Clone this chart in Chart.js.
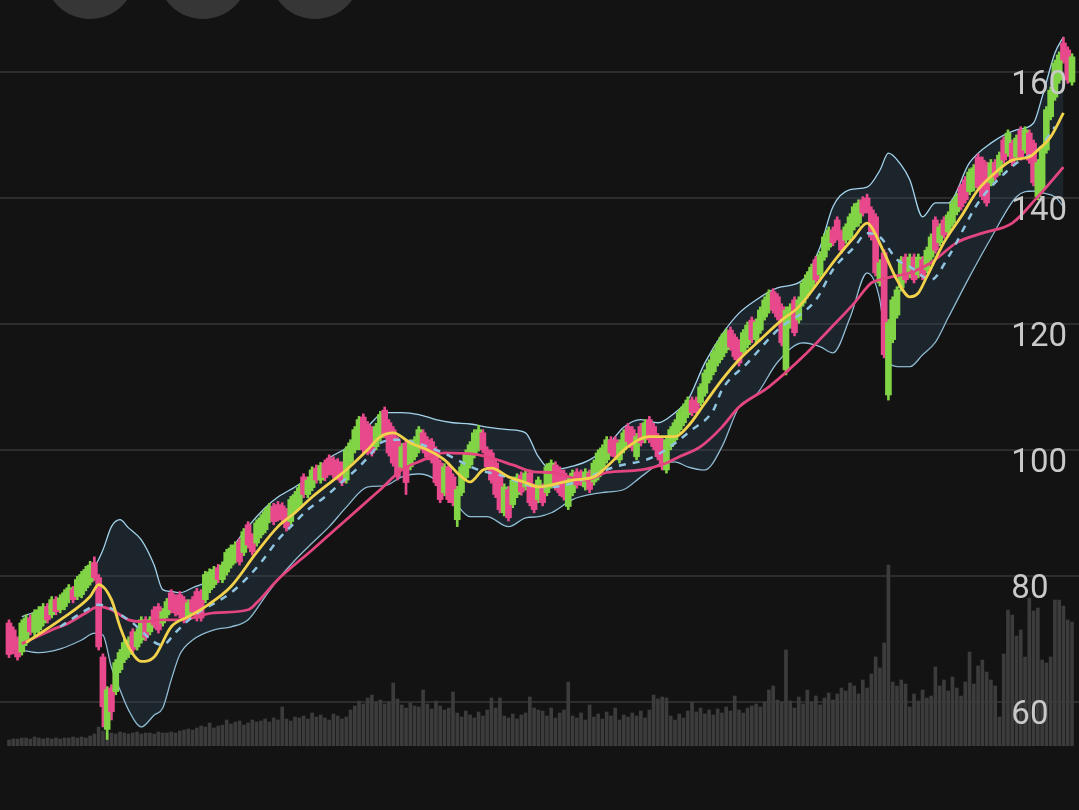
<!DOCTYPE html>
<html>
<head>
<meta charset="utf-8">
<script src="https://cdn.jsdelivr.net/npm/chart.js@4.4.1/dist/chart.umd.min.js"></script>
<style>
html,body{margin:0;padding:0;background:#131313;overflow:hidden;}
canvas{display:block;}
</style>
</head>
<body>
<canvas id="c" width="1079" height="810"></canvas>
<script>
// ---- price candles (one per session) ----
const openPrices = [
72.5,71.4,69.8,67.9,69.4,73.3,71.0,71.4,72.5,75.1,
73.8,76.2,74.6,75.1,76.2,77.8,76.7,77.0,78.1,79.0,
82.1,79.7,67.1,55.6,62.2,61.6,65.1,66.7,67.5,71.1,
68.7,69.8,73.0,71.1,74.6,75.1,72.5,73.8,77.3,76.5,
77.0,76.2,73.5,76.2,77.5,77.3,76.2,77.8,78.6,81.3,
79.4,80.6,81.7,82.5,85.4,83.7,88.1,86.2,85.2,86.5,
87.3,88.9,91.0,91.3,91.1,90.2,88.6,90.5,91.3,95.7,
92.9,94.0,97.1,95.2,97.9,98.7,98.4,98.1,97.6,95.2,
98.1,100.0,100.5,105.2,104.0,103.2,100.5,101.9,106.3,104.3,
103.2,101.6,97.3,101.1,97.3,98.9,100.0,102.7,101.6,101.3,
100.0,97.9,93.2,97.3,95.7,88.9,93.2,95.6,97.6,99.2,
100.3,102.7,100.0,99.5,97.9,96.0,90.0,93.7,91.3,92.9,
96.0,94.1,96.3,94.1,92.1,94.1,93.2,94.4,97.6,96.8,
96.3,91.0,93.2,96.5,96.3,94.1,96.3,94.9,95.7,97.3,
98.4,101.6,101.6,98.4,100.0,103.7,103.2,98.9,103.7,101.6,
104.8,103.7,102.1,101.6,96.8,100.5,101.6,103.2,104.3,105.6,
107.9,107.9,107.5,109.0,111.1,112.4,113.8,114.8,115.9,119.0,
117.9,117.0,115.6,116.7,120.6,117.5,119.0,121.1,122.2,125.1,
124.3,122.7,112.7,119.8,123.8,120.6,123.3,124.6,125.9,130.2,
127.8,130.6,132.2,134.9,136.5,134.4,133.3,133.8,135.4,136.0,
139.7,140.0,138.1,137.0,126.5,131.3,108.7,117.5,121.4,125.7,
130.6,127.8,130.6,127.8,130.2,128.6,130.6,136.5,132.9,136.5,
134.6,136.0,137.8,141.7,142.9,141.0,141.6,146.5,146.0,145.2,
142.4,145.6,144.1,149.2,147.1,148.7,146.5,150.8,147.6,150.3,
148.7,140.2,141.3,147.6,152.9,156.0,158.7,164.6,163.5,158.4
];
const highPrices = [
73.0,71.9,70.3,73.0,73.8,73.8,74.6,75.1,75.6,75.6,
76.7,76.7,77.0,77.8,78.6,78.3,79.9,80.7,81.5,82.3,
83.0,80.2,67.6,62.4,62.7,66.7,68.3,69.9,70.3,71.6,
71.6,73.5,73.5,73.5,75.1,75.6,74.8,76.4,77.8,77.0,
77.5,76.7,76.2,76.7,78.0,77.8,80.7,81.1,81.5,81.8,
82.2,84.2,84.9,85.4,85.9,87.5,88.6,86.7,88.9,89.7,
90.7,91.5,91.5,91.8,91.6,90.7,92.6,93.4,94.5,96.2,
95.7,97.3,97.6,98.0,98.4,99.2,98.9,98.6,98.1,100.5,
101.6,103.7,105.3,105.7,104.5,103.7,104.2,106.1,106.8,104.8,
103.7,102.1,101.0,101.6,101.6,102.1,103.7,103.2,102.1,101.8,
100.5,98.4,97.8,97.8,96.2,94.2,97.8,100.0,101.3,103.2,
103.9,103.2,100.5,100.0,98.4,96.5,94.6,94.2,95.7,96.2,
96.5,96.8,96.8,94.6,95.7,94.6,97.8,98.4,98.1,97.3,
96.8,95.7,96.8,97.0,96.8,97.0,96.8,98.4,100.0,100.8,
102.1,102.1,102.1,101.6,103.2,104.2,103.7,102.6,104.2,104.8,
105.3,104.2,102.6,102.1,102.1,103.7,104.8,106.4,107.3,108.4,
108.4,108.4,110.5,112.7,114.3,115.9,117.2,118.4,119.2,119.5,
118.4,117.5,119.1,120.3,121.1,120.8,122.7,124.3,125.4,125.6,
124.8,123.2,122.7,123.2,124.3,124.3,127.0,128.3,129.5,130.7,
131.5,134.3,135.4,135.4,137.0,134.9,135.9,137.5,139.1,139.7,
140.2,140.6,138.6,137.5,130.2,131.8,120.7,124.3,125.9,130.7,
131.1,131.1,131.1,131.1,130.7,132.2,134.3,137.0,135.9,137.0,
137.8,139.7,140.7,142.2,143.4,144.6,145.3,147.0,146.5,145.7,
146.1,146.1,147.3,149.7,150.8,149.2,150.0,151.3,151.3,150.8,
149.2,146.1,148.1,154.5,157.6,161.9,163.2,165.5,164.0,162.9
];
const lowPrices = [
67.0,67.6,66.6,67.4,68.9,70.6,70.5,70.9,72.0,72.5,
73.3,73.8,74.1,74.6,75.7,75.7,76.2,76.5,77.6,78.5,
79.2,68.2,56.0,54.0,57.1,61.1,64.6,66.2,67.0,67.8,
68.2,69.3,69.7,70.6,71.7,70.9,72.0,73.3,74.1,73.6,
73.3,72.5,73.0,73.8,72.8,72.8,75.7,77.3,78.1,78.9,
78.9,80.1,81.2,82.0,81.7,83.2,84.4,83.3,84.7,86.0,
86.8,88.4,88.1,88.7,88.4,87.1,88.1,90.0,90.8,92.4,
92.4,93.5,94.7,94.7,95.1,96.0,95.5,95.2,94.3,94.7,
97.6,99.5,100.0,99.5,99.2,99.0,100.0,101.4,101.9,99.0,
97.4,95.2,96.8,92.9,96.8,98.4,99.5,99.5,98.4,97.9,
94.3,91.6,92.7,91.6,91.1,87.8,92.7,95.1,97.1,98.7,
99.8,99.5,96.8,94.7,92.4,90.0,89.5,88.7,90.8,92.4,
92.8,93.6,91.1,90.0,91.6,91.1,92.7,93.9,93.6,92.7,
92.0,90.5,92.7,93.9,94.3,93.6,93.2,94.4,95.2,96.8,
97.9,99.0,98.4,97.9,99.5,100.8,99.8,98.4,100.6,101.1,
101.1,100.0,98.4,96.8,96.3,100.0,101.1,102.7,103.8,105.1,
105.4,105.8,107.0,108.5,110.6,111.9,113.3,114.3,115.4,115.8,
114.3,113.3,115.1,116.2,117.0,117.0,118.5,120.6,121.7,121.7,
120.6,116.5,111.9,119.3,118.1,120.1,122.8,124.1,125.4,126.5,
127.3,130.1,131.7,132.4,133.3,131.2,132.8,133.3,134.9,135.5,
137.1,137.6,133.3,127.6,126.0,114.6,107.9,117.0,120.9,125.2,
126.5,127.3,126.5,127.3,127.0,128.1,130.1,131.2,132.4,133.6,
134.1,135.5,137.3,138.1,139.2,140.5,141.1,141.2,139.7,138.7,
141.9,142.8,143.6,145.5,146.6,145.1,146.0,146.0,147.1,145.5,
141.9,139.7,140.8,147.1,152.4,155.5,158.2,161.4,158.2,157.9
];
const closePrices = [
67.5,68.3,67.1,72.5,73.3,71.1,74.1,74.6,75.1,73.0,
76.2,74.3,76.5,77.3,78.1,76.2,79.4,80.2,81.0,81.7,
79.7,68.7,59.2,61.9,58.4,66.2,67.8,69.4,69.8,68.3,
71.1,73.0,70.2,73.0,72.2,71.4,74.3,75.9,74.6,74.1,
73.8,73.0,75.7,74.3,73.3,73.3,80.2,80.6,81.0,79.4,
81.7,83.7,84.4,84.9,82.2,87.0,84.9,83.8,88.4,89.2,
90.2,91.0,88.6,89.2,88.9,87.6,92.1,92.9,94.0,92.9,
95.2,96.8,95.2,97.5,95.6,96.5,96.0,95.7,94.8,100.0,
101.1,103.2,104.8,100.0,99.7,99.5,103.7,105.6,102.4,99.5,
97.9,95.7,100.5,94.8,101.1,101.6,103.2,100.0,98.9,98.4,
94.8,92.1,97.3,92.1,91.6,93.7,97.3,99.5,100.8,102.7,
103.2,100.0,97.3,95.2,92.9,90.5,94.1,89.2,95.2,95.7,
93.3,96.3,91.6,90.5,95.2,91.6,97.3,97.9,94.1,93.2,
92.5,95.2,96.3,94.4,94.8,96.5,93.7,97.9,99.5,100.3,
101.6,99.5,98.9,101.1,102.7,101.3,100.3,102.1,101.1,104.3,
101.6,100.5,98.9,97.3,101.6,103.2,104.3,105.9,106.8,107.9,
105.9,106.3,110.0,112.2,113.8,115.4,116.7,117.9,118.7,116.3,
114.8,113.8,118.6,119.8,117.5,120.3,122.2,123.8,124.9,122.2,
121.1,117.0,122.2,122.7,118.6,123.8,126.5,127.8,129.0,127.0,
131.0,133.8,134.9,132.9,133.8,131.7,135.4,137.0,138.6,139.2,
137.6,138.1,133.8,128.1,129.7,115.1,120.2,123.8,125.4,130.2,
127.0,130.6,127.0,130.6,127.5,131.7,133.8,131.7,135.4,134.1,
137.3,139.2,140.2,138.6,139.7,144.1,144.8,141.7,140.2,139.2,
145.6,143.3,146.8,146.0,150.3,145.6,149.5,146.5,150.8,146.0,
142.4,145.6,147.6,154.0,157.1,161.4,162.7,161.9,158.7,162.4
];
// ---- volume per session ----
const volumes = [
6,7,7,8,8,7,9,8,7,8,7,8,7,8,8,9,8,9,8,10,
12,19,15,13,
13,12,14,13,12,13,14,12,13,13,12,14,13,13,14,13,15,
16,17,16,18,20,19,23,18,20,21,
26,22,24,25,21,23,26,24,
25,27,24,28,26,39,27,25,29,28,
30,27,33,29,31,28,26,32,30,27,29,
36,40,45,42,48,51,44,
46,42,44,63,47,41,
38,43,40,39,56,42,37,45,
40,36,38,54,
33,29,35,31,28,34,30,36,
48,38,48,
30,28,32,27,31,
33,49,38,36,
35,30,38,28,33,36,
64,
30,28,33,26,41,29,32,27,34,30,38,26,31,29,
33,30,35,28,36,51,47,49,
48,30,26,32,28,
35,44,
34,38,32,36,31,37,33,39,35,50,
36,33,38,40,42,39,44,56,60,
46,44,
96,
45,38,49,42,
56,
44,50,41,48,53,46,52,
58,55,63,
60,52,66,58,
72,89,78,
103,
181,
64,60,66,62,39,
52,45,56,48,50,
79,
60,66,55,69,58,
50,64,94,62,
80,86,74,
66,60,
29,
92,136,
131,110,116,89,
148,135,138,
86,83,89,
146,146,140,126,124
];
// ---- Bollinger bands (read at sampled sessions) ----
const bandSessions = [3,7,12,17,20,22,24,26,28,31,34,36,38,40,43,48,52,56,60,63,67,71,75,79,84,88,92,96,100,104,108,112,117,121,124,127,132,136,140,144,148,152,156,159,163,167,171,175,180,186,190,193,197,201,204,206,209,211,214,217,220,225,230,236,240,242,245,247];
const upperBand = [73.5,74.4,75.1,79.2,81.4,84.1,87.8,88.9,87.6,85.7,81.7,77.8,77.5,77.3,78.1,79.8,84.1,87.8,90.8,92.5,94.1,96.0,98.7,100.3,103.7,105.9,105.9,105.6,104.8,104.3,104.1,103.6,103.2,102.7,98.9,96.8,97.4,98.4,100.5,103.6,104.8,104.3,105.9,107.9,113.8,118.3,121.7,123.8,125.7,127.0,132.2,138.6,141.3,141.7,144.4,147.1,145.2,142.9,137.0,139.2,139.2,145.6,148.7,150.8,151.9,156.0,163.0,165.6];
const lowerBand = [68.2,67.8,68.4,69.8,70.9,70.6,65.5,61.9,58.7,56.0,57.9,59.0,63.5,67.5,69.8,71.4,71.9,73.0,76.7,79.4,82.5,85.2,87.8,90.9,94.1,94.3,95.7,96.2,95.2,92.1,89.4,89.4,87.8,89.2,89.4,90.0,92.1,92.9,93.3,93.7,95.7,97.6,98.1,97.3,96.8,100.5,106.8,108.7,113.9,117.0,116.4,115.4,121.0,128.1,123.8,113.8,113.2,113.2,115.1,117.1,121.0,127.5,133.6,140.2,141.1,140.8,140.2,138.6];
const midSessions = [12,17,21,28,36,39,43,52,56,59,63,66,70,74,78,82,85,87,91,100,110,115,124,127,142,151,160,165,167,173,180,189,193,198,201,204,208,211,216,220,227,234,237,241,245];
const midBand = [71.9,74.1,75.4,73.0,69.0,71.0,73.5,77.3,79.8,82.1,85.7,87.8,90.5,92.5,94.9,97.3,99.5,101.1,101.6,100.0,96.8,96.0,94.1,94.1,97.3,98.9,103.2,106.3,109.5,113.8,119.0,123.8,128.6,132.2,134.4,133.8,130.2,129.1,127.0,130.6,139.2,144.4,146.0,147.6,151.3];
// ---- fast average (yellow) ----
const fastSessions = [4,12,19,21,24,26,28,31,34,38,42,46,52,58,63,67,71,76,79,84,87,90,94,98,102,106,108,111,113,117,121,124,132,137,140,145,150,156,159,163,167,171,176,181,185,190,194,198,201,202,205,208,211,213,215,219,223,227,231,235,239,241,244,247];
const fastAvg = [69.4,73.0,76.7,78.6,76.2,71.9,68.7,66.4,67.1,71.9,73.5,75.1,78.3,83.7,87.8,90.0,92.5,95.2,96.8,100.0,102.1,102.7,101.1,100.0,98.4,95.7,94.9,96.8,97.1,95.7,94.8,94.1,95.2,95.7,97.3,100.5,102.1,102.1,103.7,107.4,111.1,114.3,117.5,120.6,122.7,127.0,130.6,133.8,136.0,135.4,131.3,127.0,124.3,124.9,127.5,132.9,137.0,141.3,144.0,146.0,146.5,147.6,149.7,153.5];
// ---- slow average (pink) ----
const slowSessions = [3,10,14,18,21,24,28,31,36,40,48,56,58,63,71,79,85,87,92,96,102,110,113,118,123,127,135,140,148,154,157,162,167,171,178,186,192,198,202,204,207,211,216,222,228,235,241,247];
const slowAvg = [69.2,71.4,72.5,74.1,75.1,74.6,73.0,72.7,73.0,73.0,74.1,74.6,75.7,79.4,84.1,88.9,92.5,93.7,96.8,98.1,99.5,99.2,98.7,97.6,96.5,96.4,95.2,96.4,96.8,97.9,98.9,100.5,103.6,106.8,110.0,114.8,119.0,123.3,126.5,127.0,127.5,128.1,129.7,132.9,134.4,136.0,140.2,144.9];
// ---- price axis ticks ----
const priceTicks = [60, 80, 100, 120, 140, 160];

const GREEN = '#80d445';
const PINK = '#e8498c';
const sessions = openPrices.map((_, i) => i);
const candleColors = sessions.map(i => closePrices[i] >= openPrices[i] ? GREEN : PINK);
const pts = (xs, ys) => xs.map((x, k) => ({x: x, y: ys[k]}));

const backdrop = {
  id: 'backdrop',
  beforeDraw(chart) {
    const ctx = chart.ctx;
    ctx.save();
    ctx.fillStyle = '#131313';
    ctx.fillRect(0, 0, chart.width, chart.height);
    ctx.fillStyle = '#363636';
    [90, 203, 315].forEach(cx => {
      ctx.beginPath();
      ctx.arc(cx, -26.5, 45.5, 0, Math.PI * 2);
      ctx.fill();
    });
    ctx.restore();
  }
};

new Chart(document.getElementById('c'), {
  data: {
    datasets: [
      { type: 'line', label: 'upper', data: pts(bandSessions, upperBand), borderColor: '#a3d3ec', borderWidth: 1.3,
        pointRadius: 0, cubicInterpolationMode: 'monotone', fill: '+1', backgroundColor: 'rgba(48,72,92,0.35)', order: 15 },
      { type: 'line', label: 'lower', data: pts(bandSessions, lowerBand), borderColor: '#a3d3ec', borderWidth: 1.3,
        pointRadius: 0, cubicInterpolationMode: 'monotone', fill: false, order: 15 },
      { type: 'bar', label: 'volume', yAxisID: 'yv', data: pts(sessions, volumes), backgroundColor: '#3c3c3c',
        barThickness: 3, grouped: false, order: 20 },
      { type: 'bar', label: 'wick', data: sessions.map(i => ({x: i, y: [lowPrices[i], highPrices[i]]})),
        backgroundColor: candleColors, barThickness: 2, grouped: false, order: 6 },
      { type: 'bar', label: 'body', data: sessions.map(i => ({x: i, y: [openPrices[i], closePrices[i]]})),
        backgroundColor: candleColors, barThickness: 6, grouped: false, minBarLength: 1.5, order: 5 },
      { type: 'line', label: 'slow', data: pts(slowSessions, slowAvg), borderColor: '#e2457f', borderWidth: 2.8,
        pointRadius: 0, cubicInterpolationMode: 'monotone', fill: false, order: 3 },
      { type: 'line', label: 'mid', data: pts(midSessions, midBand), borderColor: '#8fc4e0', borderWidth: 2.5,
        borderDash: [7, 7], pointRadius: 0, cubicInterpolationMode: 'monotone', fill: false, order: 2 },
      { type: 'line', label: 'fast', data: pts(fastSessions, fastAvg), borderColor: '#f2d24b', borderWidth: 2.8,
        pointRadius: 0, cubicInterpolationMode: 'monotone', fill: false, order: 1 }
    ]
  },
  options: {
    responsive: false,
    animation: false,
    events: [],
    layout: { padding: { top: 0, right: 0, bottom: 64, left: 0 } },
    plugins: { legend: { display: false }, tooltip: { enabled: false } },
    scales: {
      x: { type: 'linear', min: -2.108, max: 250.64, offset: false, display: false },
      y: {
        type: 'linear', position: 'right', min: 52.965, max: 171.43,
        afterFit(scale) { scale.paddingTop = 0; scale.paddingBottom = 0; scale.width = 0; },
        afterBuildTicks(scale) { scale.ticks = priceTicks.map(v => ({value: v})); },
        grid: { color: '#2d2d2d', lineWidth: 2, drawTicks: false, z: -1 },
        border: { display: false },
        ticks: { z: 1, mirror: true, crossAlign: 'far', padding: -12, labelOffset: 14, color: '#c9c9c9',
                 font: { family: 'Roboto', size: 33 } }
      },
      yv: { type: 'linear', display: false, min: 0, max: 746 }
    }
  },
  plugins: [backdrop]
});
</script>
</body>
</html>
